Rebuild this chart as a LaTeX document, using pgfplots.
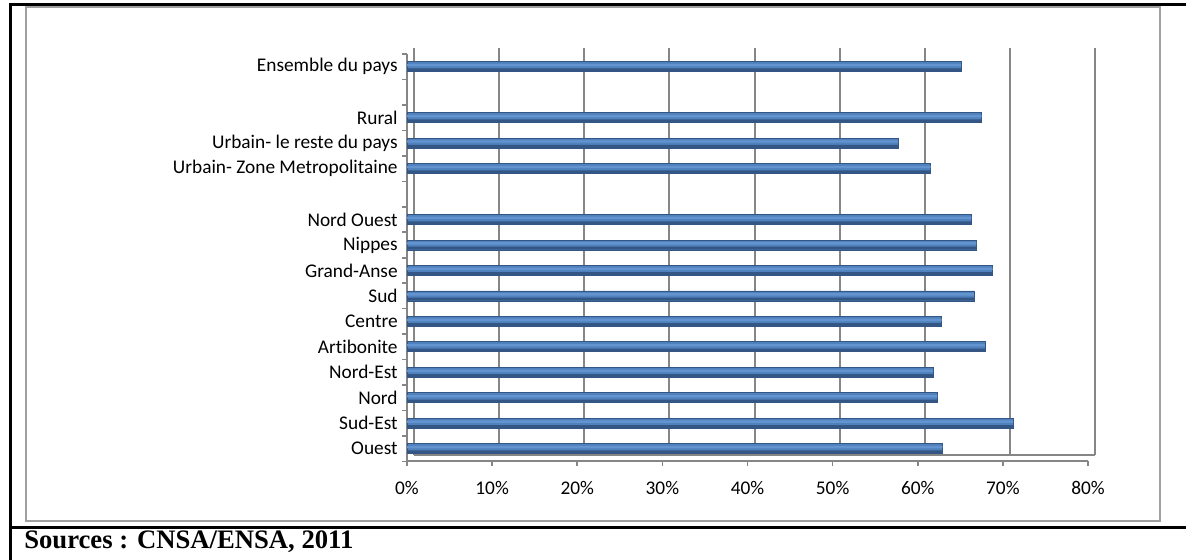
\documentclass[border=0pt]{standalone}
\usepackage{pgfplots}
\pgfplotsset{compat=1.18}
\usepackage{fontspec}
\setmainfont{Carlito}[Ligatures={NoCommon}]
\newfontfamily\srcfont{Liberation Serif}
\definecolor{barblue}{RGB}{79,129,189}
\definecolor{barlight}{RGB}{100,148,208}
\definecolor{bardark}{RGB}{52,86,132}
\definecolor{gridgray}{RGB}{134,134,134}
\definecolor{framegray}{RGB}{160,160,160}
\pgfplotstableread{
y v
0 62.9
1 71.2
2 62.3
3 61.8
4 67.9
5 62.8
6 66.6
7 68.8
8 66.9
9 66.3
11 61.5
12 57.7
13 67.5
15 65.1
}\datatab
\begin{document}
\begin{tikzpicture}
\path[use as bounding box] (0pt,0pt) rectangle (889.5pt,420pt);
% back wall: gridlines and back floor line
\begin{axis}[
  at={(310.5pt,78.375pt)}, anchor=south west,
  scale only axis, width=510.75pt, height=305.625pt,
  xmin=0, xmax=80, ymin=-0.5, ymax=15.5,
  axis x line*=bottom, axis y line=none,
  axis line style={gridgray, line width=1.5pt, -},
  xtick={0,10,...,80}, xticklabels={}, ytick=\empty,
  major tick length=0pt,
  xmajorgrids, grid style={gridgray, line width=1.5pt},
]
\addplot[draw=none] coordinates {(0,0)};
\end{axis}
% front: bars, axes and labels
\begin{axis}[
  at={(305.25pt,73.875pt)}, anchor=south west,
  scale only axis, width=510.75pt, height=305.625pt,
  xmin=0, xmax=80, ymin=-0.5, ymax=15.5,
  xbar,
  axis x line*=bottom, axis y line*=left,
  axis line style={gridgray, line width=1.5pt, -},
  tick align=outside,
  major tick length=3.5pt, minor tick length=3.5pt,
  xtick={0,10,...,80},
  xticklabels={0\%,10\%,20\%,30\%,40\%,50\%,60\%,70\%,80\%},
  ytick={0,1,2,3,4,5,6,7,8,9,11,12,13,15},
  yticklabels={Ouest,Sud-Est,Nord,Nord-Est,Artibonite,Centre,Sud,Grand-Anse,Nippes,Nord Ouest,Urbain- Zone Metropolitaine,Urbain- le reste du pays,Rural,Ensemble du pays},
  minor ytick={-0.5,0.5,...,15.5},
  major y tick style={draw=none},
  major x tick style={gridgray, line width=1.2pt},
  minor y tick style={gridgray, line width=1.2pt},
  tick label style={font=\fontsize{14.5}{16}\selectfont, text=black},
  xticklabel style={yshift=-8pt},
]
\addplot[fill=barblue, draw=bardark, line width=0.6pt, bar width=7.5pt, bar shift=0pt]
  table[x=v, y=y] {\datatab};
\addplot[fill=bardark, draw=none, bar width=2.2pt, bar shift=-2.4pt]
  table[x=v, y=y] {\datatab};
\addplot[fill=barlight, draw=none, bar width=1.8pt, bar shift=1.2pt]
  table[x=v, y=y] {\datatab};
\end{axis}
% frames
\draw[framegray, line width=1.2pt] (19.5pt,414.75pt) rectangle (870pt,29.25pt);
\draw[black, line width=2.25pt] (7.5pt,416.25pt) -- (889.5pt,416.25pt);
\draw[black, line width=2.25pt] (7.5pt,417.4pt) -- (7.5pt,0pt);
\draw[black, line width=2.25pt] (7.5pt,24pt) -- (889.5pt,24pt);
\node[anchor=base west, inner sep=0pt, font=\srcfont\bfseries\fontsize{20}{22}\selectfont]
  at (18pt,8.5pt) {Sources : CNSA/ENSA, 2011};
\end{tikzpicture}
\end{document}
